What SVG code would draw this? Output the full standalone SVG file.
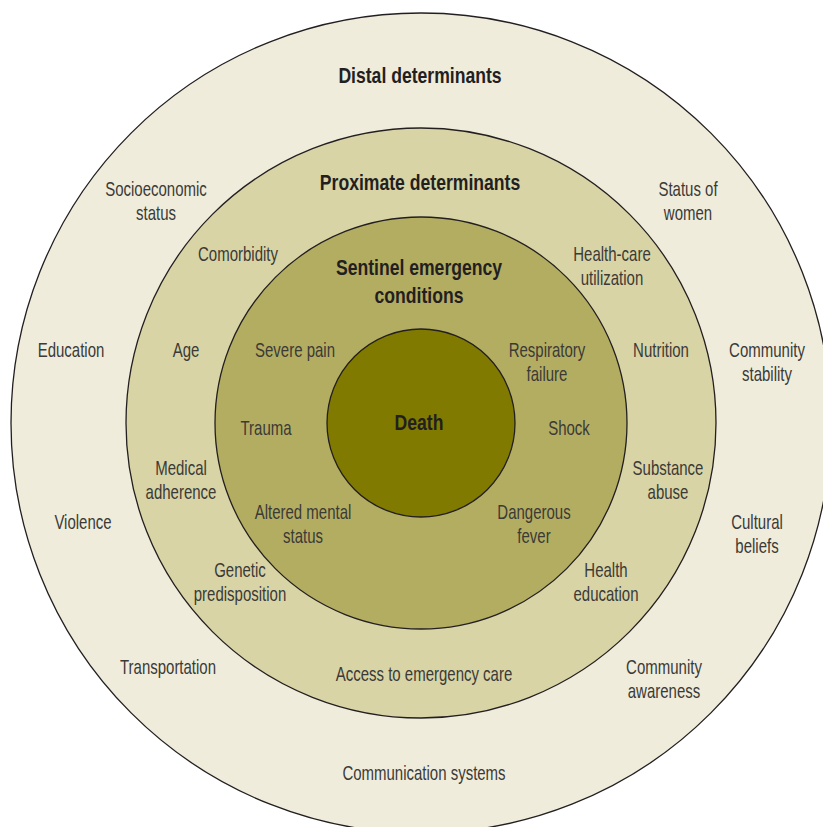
<svg xmlns="http://www.w3.org/2000/svg" width="823" height="827" viewBox="0 0 823 827">
  <style>
    .ring { stroke: #231f20; stroke-width: 1.3; }
    .lbl { font-family: "Liberation Sans", Arial, sans-serif; font-size: 20px; fill: #3b3a36; text-anchor: middle; }
    .ttl { font-family: "Liberation Sans", Arial, sans-serif; font-size: 22px; font-weight: bold; fill: #231f20; text-anchor: middle; }
  </style>
  <!-- condensed lettering: each label is placed with translate(cx, baseline) and squeezed horizontally -->
  <rect width="823" height="827" fill="#ffffff"/>

  <!-- Distal ring -->
  <g id="distal">
    <circle class="ring" cx="421" cy="423" r="410" fill="#efecdc"/>
    <text class="ttl" transform="translate(420,83) scale(0.8,1)">Distal determinants</text>
    <text class="lbl" transform="translate(156,196) scale(0.75,1)">Socioeconomic</text>
    <text class="lbl" transform="translate(156,220) scale(0.75,1)">status</text>
    <text class="lbl" transform="translate(688,196) scale(0.75,1)">Status of</text>
    <text class="lbl" transform="translate(688,220) scale(0.75,1)">women</text>
    <text class="lbl" transform="translate(71,357) scale(0.75,1)">Education</text>
    <text class="lbl" transform="translate(767,357) scale(0.75,1)">Community</text>
    <text class="lbl" transform="translate(767,381) scale(0.75,1)">stability</text>
    <text class="lbl" transform="translate(83,529) scale(0.75,1)">Violence</text>
    <text class="lbl" transform="translate(757,529) scale(0.75,1)">Cultural</text>
    <text class="lbl" transform="translate(757,553) scale(0.75,1)">beliefs</text>
    <text class="lbl" transform="translate(168,674) scale(0.75,1)">Transportation</text>
    <text class="lbl" transform="translate(664,674) scale(0.75,1)">Community</text>
    <text class="lbl" transform="translate(664,698) scale(0.75,1)">awareness</text>
    <text class="lbl" transform="translate(424,780) scale(0.75,1)">Communication systems</text>
  </g>

  <!-- Proximate ring -->
  <g id="proximate">
    <circle class="ring" cx="421" cy="423" r="295" fill="#d8d4a6"/>
    <text class="ttl" transform="translate(420,190) scale(0.8,1)">Proximate determinants</text>
    <text class="lbl" transform="translate(238,261) scale(0.75,1)">Comorbidity</text>
    <text class="lbl" transform="translate(612,261) scale(0.75,1)">Health-care</text>
    <text class="lbl" transform="translate(612,285) scale(0.75,1)">utilization</text>
    <text class="lbl" transform="translate(186,357) scale(0.75,1)">Age</text>
    <text class="lbl" transform="translate(661,357) scale(0.75,1)">Nutrition</text>
    <text class="lbl" transform="translate(181,475) scale(0.75,1)">Medical</text>
    <text class="lbl" transform="translate(181,499) scale(0.75,1)">adherence</text>
    <text class="lbl" transform="translate(668,475) scale(0.75,1)">Substance</text>
    <text class="lbl" transform="translate(668,499) scale(0.75,1)">abuse</text>
    <text class="lbl" transform="translate(240,577) scale(0.75,1)">Genetic</text>
    <text class="lbl" transform="translate(240,601) scale(0.75,1)">predisposition</text>
    <text class="lbl" transform="translate(606,577) scale(0.75,1)">Health</text>
    <text class="lbl" transform="translate(606,601) scale(0.75,1)">education</text>
    <text class="lbl" transform="translate(424,681) scale(0.75,1)">Access to emergency care</text>
  </g>

  <!-- Sentinel ring -->
  <g id="sentinel">
    <circle class="ring" cx="421" cy="423" r="206" fill="#b3ad62"/>
    <text class="ttl" transform="translate(419,275) scale(0.8,1)">Sentinel emergency</text>
    <text class="ttl" transform="translate(419,303) scale(0.8,1)">conditions</text>
    <text class="lbl" transform="translate(295,357) scale(0.75,1)">Severe pain</text>
    <text class="lbl" transform="translate(547,357) scale(0.75,1)">Respiratory</text>
    <text class="lbl" transform="translate(547,381) scale(0.75,1)">failure</text>
    <text class="lbl" transform="translate(266,435) scale(0.75,1)">Trauma</text>
    <text class="lbl" transform="translate(569,435) scale(0.75,1)">Shock</text>
    <text class="lbl" transform="translate(303,519) scale(0.75,1)">Altered mental</text>
    <text class="lbl" transform="translate(303,543) scale(0.75,1)">status</text>
    <text class="lbl" transform="translate(534,519) scale(0.75,1)">Dangerous</text>
    <text class="lbl" transform="translate(534,543) scale(0.75,1)">fever</text>
  </g>

  <!-- Core -->
  <g id="death">
    <circle class="ring" cx="421" cy="423" r="94" fill="#807a00"/>
    <text class="ttl" transform="translate(419,430) scale(0.8,1)">Death</text>
  </g>
</svg>
